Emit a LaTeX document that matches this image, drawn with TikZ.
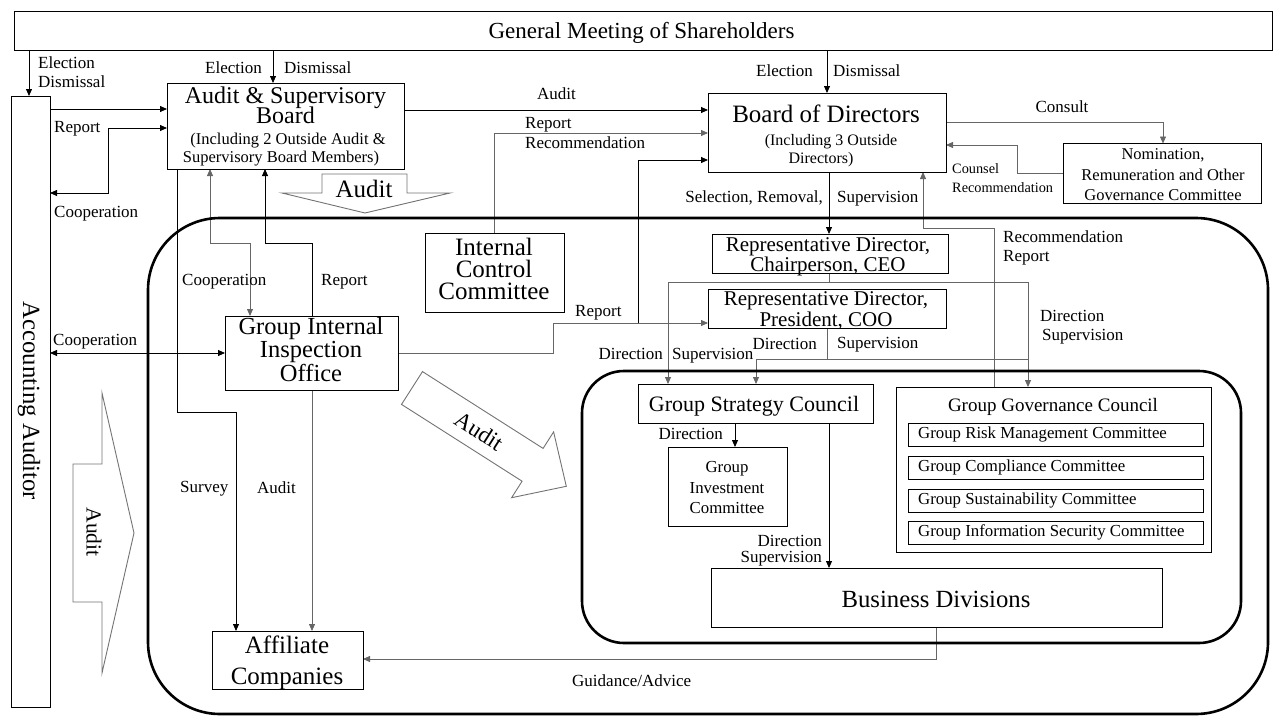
\documentclass[tikz,border=0pt]{standalone}
\usepackage{fontspec}
\setmainfont{Liberation Serif}
\usetikzlibrary{arrows.meta}
\newcommand{\myfs}[2]{\fontsize{#1}{#2}\selectfont}
\begin{document}
\begin{tikzpicture}[x=1pt,y=-1pt,
  box/.style={draw=black, line width=0.8pt, fill=white, inner sep=0pt, outer sep=0pt},
  bl/.style={line width=0.8pt, draw=black},
  gl/.style={line width=0.8pt, draw=black!60},
  arr/.style={-{Triangle[length=7pt,width=6pt]}},
  darr/.style={{Triangle[length=7pt,width=6pt]}-{Triangle[length=7pt,width=6pt]}},
  lbl/.style={inner sep=0pt, font=\myfs{17}{20}},
  lw/.style={lbl, anchor=base west},
  le/.style={lbl, anchor=base east},
  lc/.style={lbl, anchor=base},
  tb/.style={inner sep=0pt, anchor=base},
  hollow/.style={draw=black!55, line width=0.9pt, fill=white},
  bigrr/.style={line width=2.6pt, draw=black}
]
\useasboundingbox (0,0) rectangle (1284,717);

% ---------------- boxes (positions) ----------------
\node[box, minimum width=1258pt, minimum height=39pt] (gm) at (643,30.5) {};
\node[box, minimum width=39pt, minimum height=611pt] (aa) at (30.5,401.5) {};
\node[box, minimum width=237pt, minimum height=86pt] (asb) at (285.5,126) {};
\node[box, minimum width=238pt, minimum height=79pt] (bod) at (827,132.5) {};
\node[box, minimum width=198pt, minimum height=60pt] (nom) at (1162,173.5) {};
\node[box, minimum width=139pt, minimum height=79pt] (icc) at (494.5,272.5) {};
\node[box, minimum width=173pt, minimum height=74pt] (giio) at (311.5,353) {};
\node[box, minimum width=236pt, minimum height=39pt] (ceo) at (830,253.5) {};
\node[box, minimum width=238pt, minimum height=39pt] (coo) at (827,308.5) {};
\node[box, minimum width=235pt, minimum height=39pt] (gsc) at (755.5,403.5) {};
\node[box, minimum width=315pt, minimum height=165pt] (ggc) at (1053.5,469.5) {};
\node[box, minimum width=119pt, minimum height=79pt] (gic) at (727.5,486.5) {};
\node[box, minimum width=451pt, minimum height=59pt] (bd) at (936.5,597.5) {};
\node[box, minimum width=151pt, minimum height=58pt] (aff) at (287.5,660) {};

% ---------------- connectors ----------------
\coordinate (j1) at (638,323);
\coordinate (j2) at (668,282);
\coordinate (j3) at (1028,282);
\coordinate (j4) at (756,359);
\coordinate (j5) at (1028,359);

\draw[bl,arr] (gm.south -| 29,0) -- (aa.north -| 29,0);
\draw[bl,arr] (gm.south -| 273,0) -- (asb.north -| 273,0);
\draw[bl,arr] (gm.south -| 827,0) -- (bod.north);
\draw[bl,arr] (aa.east |- 0,109) -- (asb.west |- 0,109);
\draw[bl,darr] (aa.east |- 0,193) -- (108,193) -- (108,128) -- (asb.west |- 0,128);
\draw[bl,arr] (asb.east |- 0,110) -- (bod.west |- 0,110);
\draw[gl,arr] (icc.north) -- (icc.north |- 0,133) -- (bod.west |- 0,133);
\draw[gl,arr] (giio.east) -- (553,353) -- (553,323) -- (coo.west |- 0,323);
\draw[bl,arr] (j1) -- (638,160) -- (bod.west |- 0,160);
\draw[bl,arr] (bod.south -| 829,0) -- (ceo.north -| 829,0);
\draw[gl,arr] (bod.east |- 0,122) -- (1163,122) -- (nom.north -| 1163,0);
\draw[gl,arr] (nom.west |- 0,173) -- (1017,173) -- (1017,145) -- (bod.east |- 0,145);
\draw[gl,arr] (ggc.north -| 994,0) -- (994,228) -- (923,228) -- (bod.south -| 923,0);
\draw[gl] (ceo.south -| 829,0) -- (829,282);
\draw[gl] (j2) -- (j3);
\draw[gl,arr] (j2) -- (gsc.north -| j2);
\draw[gl,arr] (j3) -- (ggc.north -| j3);
\draw[gl] (coo.south -| 827,0) -- (827,359);
\draw[gl] (j4) -- (j5);
\draw[gl,arr] (j4) -- (gsc.north -| j4);
\draw[bl,arr] (gsc.south -| 735,0) -- (gic.north -| 735,0);
\draw[bl,arr] (gsc.south -| 829,0) -- (bd.north -| 829,0);
\draw[gl,arr] (bd.south -| 936,0) -- (936,659) -- (aff.east |- 0,659);
\draw[gl,darr] (asb.south -| 210,0) -- (210,243) -- (250,243) -- (giio.north -| 250,0);
\draw[bl,arr] (giio.north -| 312,0) -- (312,243) -- (265,243) -- (asb.south -| 265,0);
\draw[bl,arr] (asb.south -| 177,0) -- (177,412) -- (236,412) -- (aff.north -| 236,0);
\draw[gl,arr] (giio.south -| 312,0) -- (aff.north -| 312,0);
\draw[bl,darr] (aa.east |- 0,353) -- (giio.west);

% ---------------- rounded frames ----------------
\draw[bigrr, rounded corners=72pt] (148,218) rectangle (1268,714);
\draw[bigrr, rounded corners=42pt] (582,371) rectangle (1241,643);

% redraw boxes on top of frames
\foreach \n in {asb,bod,nom,icc,giio,ceo,coo,gsc,ggc,gic,bd,aff}{
  \draw[line width=0.8pt, fill=white] (\n.north west) rectangle (\n.south east);
}
\draw[line width=0.8pt] (908,423) rectangle (1203,446);
\draw[line width=0.8pt] (908,456) rectangle (1203,479);
\draw[line width=0.8pt] (908,489) rectangle (1203,512);
\draw[line width=0.8pt] (908,521) rectangle (1203,544);

% ---------------- hollow audit arrows ----------------
\draw[hollow] (322,174) -- (407,174) -- (407,193) -- (450,193) -- (365,213) -- (282,193) -- (322,193) -- cycle;
\draw[hollow] (102,393) -- (102,464) -- (73,464) -- (73,602) -- (102,602) -- (102,673) -- (134,533) -- cycle;
\draw[hollow] (422.5,371.6) -- (543.1,448.4) -- (553.6,431.9) -- (566.3,486.3) -- (511.6,497.7) -- (522.1,481.2) -- (401.5,404.4) -- cycle;
\node[tb, font=\myfs{25}{28}] (au1) at (364,197) {Audit};
\node[inner sep=0pt, rotate=-90, font=\myfs{21.5}{24}] (au2) at (94,532) {Audit};
\node[inner sep=0pt, rotate=-32.5, font=\myfs{23}{26}] (au3) at (479,431) {Audit};

% ---------------- box texts ----------------
\node[tb, font=\myfs{23}{26}] (gmt) at (641.5,38) {General Meeting of Shareholders};
\node[inner sep=0pt, rotate=-90, font=\myfs{24.7}{28}] (aat) at (29,401) {Accounting Auditor};

\node[tb, font=\myfs{24}{26}] (asb1) at (285.5,103) {Audit \& Supervisory};
\node[tb, font=\myfs{24}{26}] (asb2) at (285.5,123) {Board};
\node[tb, font=\myfs{16.5}{19}] (asb3) at (288,144) {(Including 2 Outside Audit \&};
\node[tb, font=\myfs{16.5}{19}] (asb4) at (281,162) {Supervisory Board Members)};

\node[tb, font=\myfs{25}{28}] (bod1) at (826,122) {Board of Directors};
\node[tb, font=\myfs{16}{19}] (bod2) at (831,145) {(Including 3 Outside};
\node[tb, font=\myfs{16}{19}] (bod3) at (821,163) {Directors)};

\node[tb, font=\myfs{16.5}{19}] (nom1) at (1163,159) {Nomination,};
\node[tb, font=\myfs{16.5}{19}] (nom2) at (1163,180) {Remuneration and Other};
\node[tb, font=\myfs{16.5}{19}] (nom3) at (1163,200) {Governance Committee};

\node[tb, font=\myfs{25}{28}] (icc1) at (494,255) {Internal};
\node[tb, font=\myfs{25}{28}] (icc2) at (494,277) {Control};
\node[tb, font=\myfs{25}{28}] (icc3) at (494,299) {Committee};

\node[tb, font=\myfs{24.5}{28}] (gi1) at (311,334) {Group Internal};
\node[tb, font=\myfs{24.5}{28}] (gi2) at (311,357) {Inspection};
\node[tb, font=\myfs{24.5}{28}] (gi3) at (311,381) {Office};

\node[tb, font=\myfs{21}{24}] (ceo1) at (828,251) {Representative Director,};
\node[tb, font=\myfs{21}{24}] (ceo2) at (828,271) {Chairperson, CEO};
\node[tb, font=\myfs{21}{24}] (coo1) at (826,305) {Representative Director,};
\node[tb, font=\myfs{21}{24}] (coo2) at (826,326) {President, COO};

\node[tb, font=\myfs{22}{25}] (gsc1) at (754,411) {Group Strategy Council};
\node[tb, font=\myfs{19}{22}] (ggc1) at (1053,411) {Group Governance Council};
\node[tb, anchor=base west, font=\myfs{16.8}{19}] (s1) at (918,438.5) {Group Risk Management Committee};
\node[tb, anchor=base west, font=\myfs{16.8}{19}] (s2) at (918,471.5) {Group Compliance Committee};
\node[tb, anchor=base west, font=\myfs{16.8}{19}] (s3) at (918,504.5) {Group Sustainability Committee};
\node[tb, anchor=base west, font=\myfs{16.8}{19}] (s4) at (918,536.5) {Group Information Security Committee};

\node[tb, font=\myfs{16.8}{19}] (gic1) at (727,472) {Group};
\node[tb, font=\myfs{16.8}{19}] (gic2) at (727,493) {Investment};
\node[tb, font=\myfs{16.8}{19}] (gic3) at (727,513) {Committee};

\node[tb, font=\myfs{24.7}{28}] (bd1) at (936,607) {Business Divisions};
\node[tb, font=\myfs{25}{28}] (af1) at (287,653) {Affiliate};
\node[tb, font=\myfs{25}{28}] (af2) at (287,684) {Companies};

% ---------------- labels ----------------
\node[lw] (l1) at (38,68) {Election};
\node[lw] (l2) at (38,87) {Dismissal};
\node[le] (l3) at (262,74) {Election};
\node[lw] (l4) at (284,74) {Dismissal};
\node[le] (l5) at (813,77) {Election};
\node[lw] (l6) at (833,77) {Dismissal};
\node[lw] (l7) at (54,132) {Report};
\node[lw] (l8) at (54,217) {Cooperation};
\node[lc] (l9) at (556.5,99) {Audit};
\node[lw] (l10) at (525,128) {Report};
\node[lw] (l11) at (525,148) {Recommendation};
\node[lc] (l12) at (1062,112) {Consult};
\node[lw, font=\myfs{14.3}{17}] (l13) at (952,173) {Counsel};
\node[lw, font=\myfs{14.3}{17}] (l14) at (952,192) {Recommendation};
\node[le] (l15) at (823,202) {Selection, Removal,};
\node[lw] (l16) at (837,202) {Supervision};
\node[lw] (l17) at (1003,242) {Recommendation};
\node[lw] (l18) at (1003,261) {Report};
\node[lw] (l19) at (1040,321) {Direction};
\node[lw] (l20) at (1042,340) {Supervision};
\node[lw] (l21) at (575,316) {Report};
\node[le] (l22) at (663,359) {Direction};
\node[lw] (l23) at (672,359) {Supervision};
\node[le] (l24) at (817,349) {Direction};
\node[lw] (l25) at (837,348) {Supervision};
\node[le] (l26) at (723,439) {Direction};
\node[le] (l27) at (822,546) {Direction};
\node[le] (l28) at (822,562) {Supervision};
\node[lw] (l29) at (572,686) {Guidance/Advice};
\node[lw] (l30) at (180,492) {Survey};
\node[lw] (l31) at (257,493) {Audit};
\node[lw] (l32) at (182,285) {Cooperation};
\node[lw] (l33) at (321,285) {Report};
\node[lw] (l34) at (53,345) {Cooperation};
\end{tikzpicture}
\end{document}
